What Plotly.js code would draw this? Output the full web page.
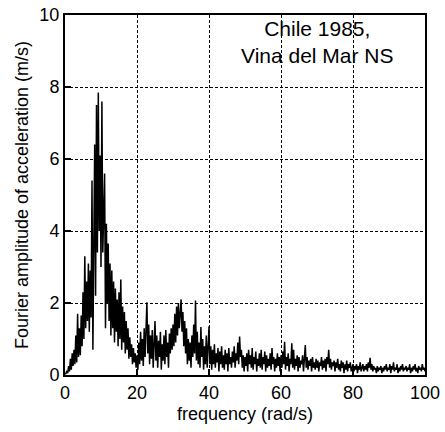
<!DOCTYPE html>
<html>
<head>
<meta charset="utf-8">
<script src="https://cdn.plot.ly/plotly-3.0.1.min.js"></script>
<style>html,body{margin:0;padding:0;background:#fff;}#chart{width:445px;height:432px;}</style>
</head>
<body>
<div id="chart"></div>
<script>
// Fourier amplitude spectrum, Chile 1985, Vina del Mar NS
// Frequency grid: starts at 0 rad/s, step 0.25 rad/s (one value per step)
const freqStart = 0;
const freqStep = 0.25;
// Amplitude (m/s), 5 rad/s per line
const amp_0_5 = [0.02,0.04,0.12,0.05,0.25,0.1,0.45,0.15,0.6,0.25,0.7,0.3,1.1,0.35,1.7,0.5,1.3,0.55,1.65,0.8];
const amp_5_10 = [2.3,1.0,3.3,1.3,2.6,1.5,3.1,1.2,2.9,1.6,5.4,0.7,3.6,6.4,2.2,7.5,3.4,7.85,4.0,6.1];
const amp_10_15 = [3.0,7.6,3.4,4.5,5.6,1.3,4.2,2.0,3.65,1.5,3.1,1.1,2.9,1.3,2.6,0.9,2.4,1.2,2.1,0.8];
const amp_15_20 = [2.3,1.0,2.65,0.7,1.9,0.9,1.75,0.6,1.5,0.7,1.3,0.45,1.05,0.5,0.85,0.3,0.75,0.35,0.6,0.2];
const amp_20_25 = [0.55,0.15,0.9,0.3,1.2,0.4,1.0,0.25,1.3,0.5,1.6,2.02,0.6,1.4,0.3,1.1,0.45,1.25,0.2,0.9];
const amp_25_30 = [1.5,0.4,1.1,0.2,0.95,0.5,1.2,0.15,0.85,0.4,1.1,0.3,1.25,0.5,0.9,0.2,1.15,0.6,1.3,0.7];
const amp_30_35 = [1.4,0.8,1.7,0.9,1.9,1.1,2.0,1.3,1.8,2.1,1.2,1.75,0.8,1.5,0.6,1.3,0.3,1.0,0.4,0.9];
const amp_35_40 = [0.2,1.1,0.5,1.4,0.6,2.07,0.4,1.2,0.3,0.9,0.2,1.33,0.5,1.0,0.15,0.8,0.3,1.1,0.2,0.7];
const amp_40_45 = [1.35,0.3,0.8,0.15,0.7,0.3,0.85,0.2,0.6,0.35,0.75,0.1,0.65,0.3,0.8,0.2,0.55,0.15,0.7,0.3];
const amp_45_50 = [0.6,0.1,0.75,0.3,0.5,0.2,0.65,0.35,0.8,0.2,0.6,0.4,0.9,0.3,1.07,0.5,0.7,0.2,0.55,0.1];
const amp_50_55 = [0.5,0.25,0.6,0.1,0.7,0.3,0.55,0.2,0.75,0.15,0.5,0.3,0.65,0.1,0.45,0.25,0.6,0.2,0.7,0.15];
const amp_55_60 = [0.5,0.3,0.65,0.1,0.55,0.2,0.45,0.25,0.6,0.15,0.75,0.3,0.5,0.1,0.45,0.2,0.6,0.25,0.5,0.1];
const amp_60_65 = [0.55,0.2,0.65,0.3,0.92,0.15,0.5,0.25,0.6,0.1,0.45,0.3,0.88,0.2,0.7,0.15,0.45,0.25,0.55,0.1];
const amp_65_70 = [0.5,0.2,0.4,0.3,0.55,0.1,0.45,0.83,0.2,0.5,0.15,0.4,0.25,0.45,0.1,0.5,0.2,0.35,0.15,0.45];
const amp_70_75 = [0.2,0.4,0.1,0.35,0.25,0.5,0.15,0.4,0.2,0.45,0.1,0.5,0.3,0.7,0.2,0.45,0.15,0.35,0.25,0.4];
const amp_75_80 = [0.1,0.35,0.2,0.45,0.15,0.3,0.1,0.4,0.2,0.35,0.05,0.3,0.15,0.4,0.1,0.3,0.2,0.35,0.1,0.25];
const amp_80_85 = [0.3,0.1,0.25,0.15,0.3,0.05,0.25,0.15,0.35,0.1,0.2,0.3,0.1,0.25,0.15,0.3,0.1,0.35,0.2,0.48];
const amp_85_90 = [0.15,0.3,0.1,0.25,0.15,0.2,0.05,0.25,0.1,0.2,0.15,0.25,0.05,0.2,0.1,0.25,0.15,0.3,0.1,0.2];
const amp_90_95 = [0.15,0.3,0.05,0.25,0.15,0.35,0.1,0.2,0.15,0.3,0.05,0.2,0.1,0.25,0.15,0.3,0.1,0.2,0.15,0.25];
const amp_95_100 = [0.1,0.2,0.15,0.3,0.05,0.2,0.1,0.25,0.15,0.3,0.1,0.2,0.05,0.25,0.15,0.2,0.1,0.3,0.15,0.2,0.1];

const amplitude = [].concat(amp_0_5, amp_5_10, amp_10_15, amp_15_20, amp_20_25, amp_25_30,
  amp_30_35, amp_35_40, amp_40_45, amp_45_50, amp_50_55, amp_55_60, amp_60_65, amp_65_70,
  amp_70_75, amp_75_80, amp_80_85, amp_85_90, amp_90_95, amp_95_100);

const xTicks = [0, 20, 40, 60, 80, 100];
const yTicks = [0, 2, 4, 6, 8, 10];
const titleText = "Chile 1985,<br>Vina del Mar NS";
const xLabel = "frequency (rad/s)";
const yLabel = "Fourier amplitude of acceleration (m/s)";

const font = "Liberation Sans, Arial, Helvetica, sans-serif";

const trace = {
  type: "scatter",
  mode: "lines",
  x0: freqStart,
  dx: freqStep,
  y: amplitude,
  line: {color: "#000", width: 1.5},
  hoverinfo: "skip"
};

const axisCommon = {
  showline: true, linecolor: "#000", linewidth: 2, mirror: true,
  ticks: "inside", ticklen: 6, tickwidth: 2, tickcolor: "#000",
  showgrid: true, gridcolor: "#000", gridwidth: 1, griddash: "3px,2px",
  zeroline: false,
  tickfont: {family: font, size: 18, color: "#000"}
};

const layout = {
  width: 445, height: 432,
  margin: {l: 65, r: 20, t: 15, b: 57, pad: 0},
  paper_bgcolor: "#fff", plot_bgcolor: "#fff",
  showlegend: false,
  xaxis: Object.assign({}, axisCommon, {
    range: [0, 100], tickvals: xTicks, ticktext: xTicks.map(String),
    title: {text: xLabel, font: {family: font, size: 18, color: "#000"}, standoff: 6}
  }),
  yaxis: Object.assign({}, axisCommon, {
    range: [0, 10], tickvals: yTicks, ticktext: yTicks.map(String),
    title: {text: yLabel, font: {family: font, size: 18, color: "#000"}, standoff: 6}
  }),
  annotations: [{
    text: titleText, xref: "x", yref: "y", x: 70, y: 9.25,
    showarrow: false, xanchor: "center", yanchor: "middle",
    font: {family: font, size: 21, color: "#000"}, align: "center"
  }]
};

Plotly.newPlot("chart", [trace], layout, {displayModeBar: false, staticPlot: true});
</script>
</body>
</html>
